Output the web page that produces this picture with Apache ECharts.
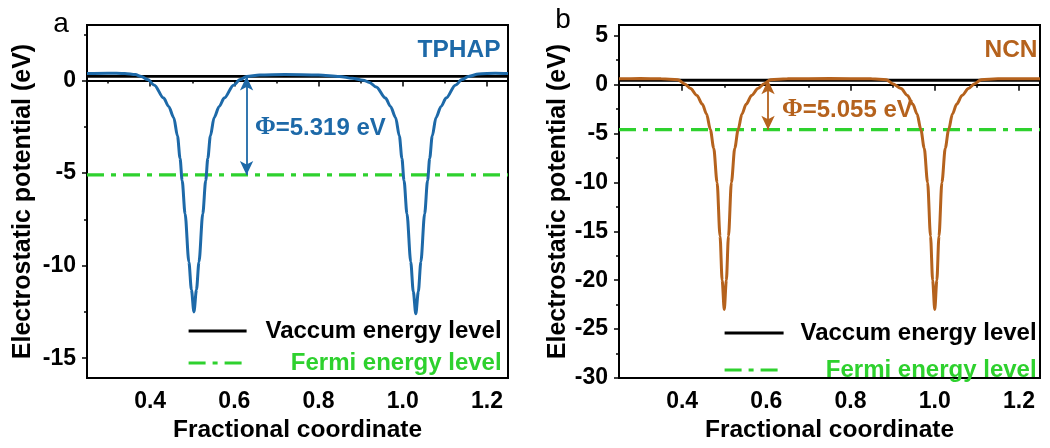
<!DOCTYPE html>
<html>
<head>
<meta charset="utf-8">
<script src="https://cdn.jsdelivr.net/npm/echarts@6/dist/echarts.min.js"></script>
<style>
html,body{margin:0;padding:0;background:#fff;}
#c{width:1050px;height:448px;}
</style>
</head>
<body>
<div id="c"></div>
<script>
// ---------- data ----------
const xRange = [0.25, 1.25];
const xMajor = [0.4, 0.6, 0.8, 1.0, 1.2];
const xMinor = [0.3, 0.5, 0.7, 0.9, 1.1];

const yRangeA = [-16.07, 3];
const yMajorA = [-15, -10, -5, 0];
const yMinorA = [-12.5, -7.5, -2.5, 2.5];

const yRangeB = [-30, 6.1];
const yMajorB = [-30, -25, -20, -15, -10, -5, 0, 5];
const yMinorB = [-27.5, -22.5, -17.5, -12.5, -7.5, -2.5, 2.5];

// TPHAP electrostatic potential (x, eV)
const tphap = [
  [0.25,0.38],[0.30,0.40],[0.34,0.38],[0.365,0.32],
  [0.379,0.22],[0.394,0.05],[0.410,-0.25],[0.432,-0.95],[0.444,-1.4],[0.456,-2.0],[0.465,-3.0],
  [0.471,-4.2],[0.476,-5.4],[0.483,-7.2],[0.492,-9.8],[0.498,-11.3],[0.504,-12.5],[0.510,-11.3],
  [0.516,-9.8],[0.525,-7.2],[0.532,-5.4],[0.537,-4.2],[0.543,-3.0],[0.552,-2.0],[0.564,-1.4],
  [0.576,-0.95],[0.598,-0.25],[0.614,0.05],[0.629,0.22],
  [0.66,0.30],[0.72,0.32],[0.80,0.30],[0.85,0.22],[0.88,0.12],
  [0.906,0.02],[0.921,-0.10],[0.937,-0.35],[0.959,-0.95],[0.971,-1.4],[0.983,-2.0],[0.992,-3.0],
  [0.998,-4.2],[1.003,-5.4],[1.010,-7.2],[1.019,-9.8],[1.025,-11.4],[1.031,-12.6],[1.037,-11.4],
  [1.043,-9.8],[1.052,-7.2],[1.059,-5.4],[1.064,-4.2],[1.070,-3.0],[1.079,-2.0],[1.091,-1.4],
  [1.103,-0.95],[1.125,-0.25],[1.141,0.05],[1.156,0.22],
  [1.18,0.35],[1.22,0.40],[1.25,0.38]
];
// NCN electrostatic potential (x, eV)
const ncn = [
  [0.25,0.60],[0.30,0.62],[0.35,0.60],[0.39,0.50],
  [0.405,0.10],[0.420,-0.40],[0.435,-1.1],[0.448,-2.0],[0.458,-3.0],[0.467,-4.6],[0.475,-6.5],
  [0.483,-10.0],[0.490,-15.5],[0.495,-20.0],[0.500,-23.0],[0.505,-20.0],[0.510,-15.5],[0.517,-10.0],
  [0.525,-6.5],[0.533,-4.6],[0.542,-3.0],[0.552,-2.0],[0.565,-1.1],[0.580,-0.40],[0.595,0.10],[0.610,0.50],
  [0.65,0.60],[0.75,0.62],[0.85,0.60],[0.885,0.50],
  [0.900,0.10],[0.920,-0.40],[0.935,-1.1],[0.948,-2.0],[0.958,-3.0],[0.967,-4.6],[0.975,-6.5],
  [0.983,-10.0],[0.990,-15.5],[0.995,-20.0],[1.000,-23.0],[1.005,-20.0],[1.010,-15.5],[1.017,-10.0],
  [1.025,-6.5],[1.033,-4.6],[1.042,-3.0],[1.052,-2.0],[1.065,-1.1],[1.080,-0.40],[1.095,0.10],[1.110,0.50],
  [1.15,0.60],[1.25,0.60]
];
const vacuumLevels = [0.22, 0.45];   // a, b
const fermiLevels = [-5.1, -4.605];  // a, b
const arrowX = [0.629, 0.604];       // a, b
const phiLabels = ['Φ=5.319 eV', 'Φ=5.055 eV'];
const sampleNames = ['TPHAP', 'NCN'];
const legendNames = ['Vaccum energy level', 'Fermi energy level'];

// ---------- style ----------
const BLUE = '#1d69a8', BROWN = '#b5621d', GREEN = '#2ed12e';
const FONT = '"Liberation Sans", Arial, sans-serif';
const FERMI_DASH = [17, 7, 5, 7];

function xAxes(grid) {
  return [{
    gridIndex: grid, type: 'value', min: xRange[0], max: xRange[1], position: 'bottom',
    name: 'Fractional coordinate', nameLocation: 'middle', nameGap: 40,
    nameTextStyle: {fontFamily: FONT, fontWeight: 'bold', fontSize: 24.5, color: '#000'},
    axisLine: {lineStyle: {color: '#000', width: 2}},
    axisTick: {customValues: xMajor, length: 6, lineStyle: {color: '#000', width: 1.5}},
    axisLabel: {customValues: xMajor, margin: 12, formatter: v => v.toFixed(1),
      fontFamily: FONT, fontWeight: 'bold', fontSize: 23, color: '#000'},
    splitLine: {show: false}
  }, {
    gridIndex: grid, type: 'value', min: xRange[0], max: xRange[1], position: 'bottom',
    axisLine: {show: false},
    axisTick: {customValues: xMinor, length: 3, lineStyle: {color: '#000', width: 1.5}},
    axisLabel: {show: false}, splitLine: {show: false}
  }];
}
function yAxes(grid, range, major, minor, gap) {
  return [{
    gridIndex: grid, type: 'value', min: range[0], max: range[1], position: 'left',
    name: 'Electrostatic potential (eV)', nameLocation: 'middle', nameGap: gap,
    nameTextStyle: {fontFamily: FONT, fontWeight: 'bold', fontSize: 25, color: '#000'},
    axisLine: {lineStyle: {color: '#000', width: 2}},
    axisTick: {customValues: major, length: 5, lineStyle: {color: '#000', width: 1.5}},
    axisLabel: {customValues: major, margin: 11, formatter: v => String(v),
      fontFamily: FONT, fontWeight: 'bold', fontSize: 23, color: '#000'},
    splitLine: {show: false}
  }, {
    gridIndex: grid, type: 'value', min: range[0], max: range[1], position: 'left',
    axisLine: {show: false},
    axisTick: {customValues: minor, length: 3, lineStyle: {color: '#000', width: 1.5}},
    axisLabel: {show: false}, splitLine: {show: false}
  }];
}

function panelSeries(i, curve, color) {
  const xi = i * 2, yi = i * 2;
  return [{
    name: sampleNames[i], type: 'line', xAxisIndex: xi, yAxisIndex: yi,
    data: curve, symbol: 'none', smooth: 0.3, smoothMonotone: 'x',
    lineStyle: {color: color, width: 3}, z: 3,
    markLine: {
      silent: true, symbol: ['arrow', 'arrow'], symbolSize: [10, 14],
      label: {show: false},
      lineStyle: {color: color, width: 1.8, type: 'solid'},
      data: [[{coord: [arrowX[i], vacuumLevels[i]]}, {coord: [arrowX[i], fermiLevels[i]]}]]
    }
  }, {
    name: legendNames[0], type: 'line', xAxisIndex: xi, yAxisIndex: yi,
    data: [[xRange[0], vacuumLevels[i]], [xRange[1], vacuumLevels[i]]],
    symbol: 'none', lineStyle: {color: '#000', width: 2.8}, itemStyle: {color: '#000'}, z: 2
  }, {
    name: legendNames[1], type: 'line', xAxisIndex: xi, yAxisIndex: yi,
    data: [[xRange[0], fermiLevels[i]], [xRange[1], fermiLevels[i]]],
    symbol: 'none', lineStyle: {color: GREEN, width: 3.2, type: FERMI_DASH},
    itemStyle: {color: GREEN}, z: 2
  }];
}

function legendFor(left, top, gap, iconW, textW) {
  return {
    orient: 'vertical', left: left, top: top, padding: 0, itemGap: gap,
    itemWidth: iconW, itemHeight: 14, selectedMode: false,
    itemStyle: {opacity: 0},
    data: [
      {name: legendNames[0], lineStyle: {color: '#000', width: 2.8, type: 'solid'}},
      {name: legendNames[1], lineStyle: {color: GREEN, width: 3.2, type: FERMI_DASH}}
    ],
    formatter: name => (name.indexOf('Fermi') === 0 ? '{g|' : '{k|') + name + '}',
    textStyle: {
      fontFamily: FONT, fontWeight: 'bold', fontSize: 24, lineHeight: 28,
      rich: {
        k: {width: textW, align: 'right', color: '#000', fontFamily: FONT, fontWeight: 'bold', fontSize: 24, lineHeight: 28},
        g: {width: textW, align: 'right', color: GREEN, fontFamily: FONT, fontWeight: 'bold', fontSize: 24, lineHeight: 28}
      }
    }
  };
}

function txt(x, y, text, color, size, weight, align) {
  return {type: 'text', x: x, y: y, silent: true, z: 10,
    style: {text: text, fill: color, fontFamily: FONT, fontSize: size, fontWeight: weight || 'bold',
      textAlign: align || 'center', textVerticalAlign: 'middle'}};
}
function phiText(x, y, text, color) {
  return {type: 'text', x: x, y: y, silent: true, z: 10,
    style: {text: '{p|' + text.charAt(0) + '}{t|' + text.slice(1) + '}', fill: color,
      textAlign: 'left', textVerticalAlign: 'middle',
      rich: {
        p: {fontFamily: '"Liberation Serif", "Times New Roman", serif', fontWeight: 'bold', fontSize: 25, fill: color},
        t: {fontFamily: FONT, fontWeight: 'bold', fontSize: 24, fill: color}
      }}};
}

const chart = echarts.init(document.getElementById('c'), null, {renderer: 'canvas'});
chart.setOption({
  animation: false,
  backgroundColor: '#fff',
  grid: [
    {left: 87, top: 25, width: 421, height: 357, show: true, borderColor: '#000', borderWidth: 2, backgroundColor: 'transparent'},
    {left: 619, top: 25, width: 421, height: 358, show: true, borderColor: '#000', borderWidth: 2, backgroundColor: 'transparent'}
  ],
  xAxis: [...xAxes(0), ...xAxes(1)],
  yAxis: [...yAxes(0, yRangeA, yMajorA, yMinorA, 51), ...yAxes(1, yRangeB, yMajorB, yMinorB, 48)],
  legend: [legendFor(187, 317, 4, 58, 250), legendFor(723, 319, 9, 59, 248)],
  series: [...panelSeries(0, tphap, BLUE), ...panelSeries(1, ncn, BROWN)],
  graphic: [
    txt(61, 24, 'a', '#000', 28, 'normal'),
    txt(563, 20, 'b', '#000', 28, 'normal'),
    txt(459, 50, sampleNames[0], BLUE, 24.5),
    txt(1011, 50, sampleNames[1], BROWN, 24.5),
    phiText(255, 128, phiLabels[0], BLUE),
    phiText(782, 110, phiLabels[1], BROWN)
  ]
});
</script>
</body>
</html>
